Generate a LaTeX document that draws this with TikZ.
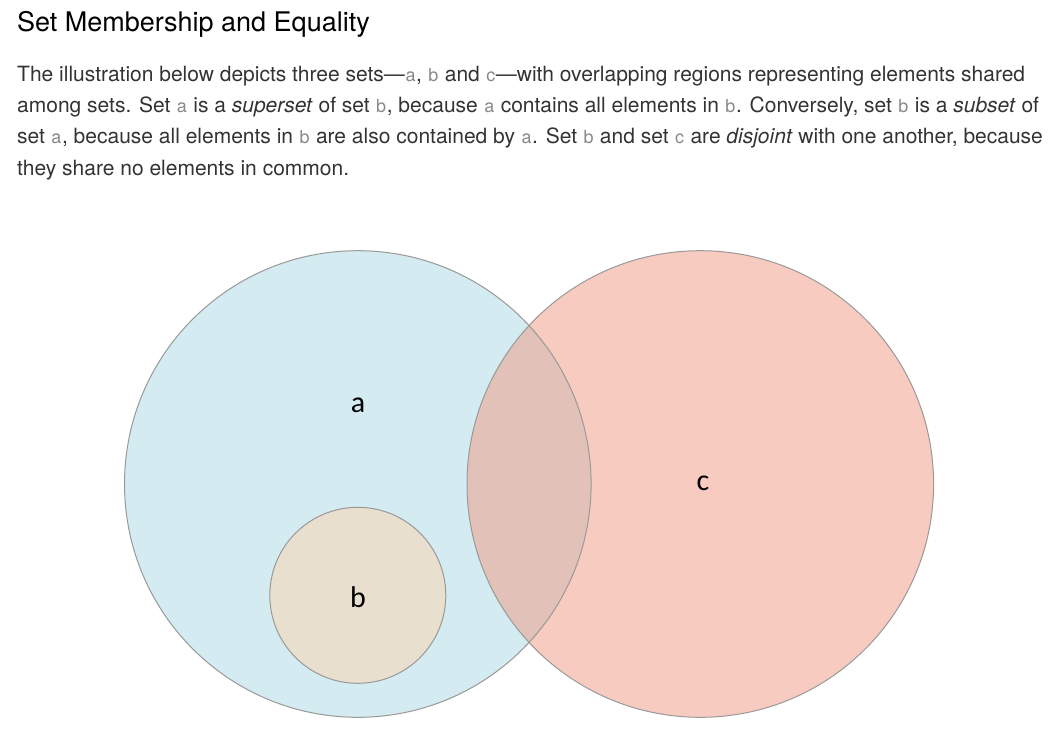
\documentclass[tikz,border=0pt]{standalone}
\usepackage{fontspec}
\setmainfont{TeX Gyre Heros}
\newfontfamily\labelfont{Carlito}
\definecolor{bodytext}{HTML}{333333}
\definecolor{codegray}{HTML}{888888}
\definecolor{afill}{HTML}{D4EBF1}
\definecolor{bfill}{HTML}{E8DFCE}
\definecolor{cfill}{HTML}{F7CBC0}
\definecolor{acfill}{HTML}{E2C2B8}
\definecolor{edge}{HTML}{999999}
\newcommand{\cw}[1]{\hspace{0.6pt}{\color{codegray}\fontsize{18}{18}\selectfont #1}\hspace{0.6pt}}
\tikzset{
  textline/.style={anchor=base west, inner sep=0pt, text=bodytext, font=\fontsize{21}{21}\selectfont},
  titleline/.style={anchor=base west, inner sep=0pt, text=black, font=\fontsize{27}{27}\selectfont},
  setlabel/.style={inner sep=0pt, text=black, font=\labelfont\fontsize{30}{30}\selectfont},
  setedge/.style={draw=edge, line width=1pt}
}
\begin{document}
\begin{tikzpicture}[x=1pt,y=-1pt]
\useasboundingbox (0,0) rectangle (1061,742);
\node[titleline] (title) at (17,31) {Set Membership and Equality};
\node[textline] (l1) at (17,81) {The illustration below depicts three sets---\cw{a}, \cw{b} and \cw{c}---with overlapping regions representing elements shared};
\node[textline] (l2) at (17,112.3) {among sets. Set \cw{a} is a \textit{superset} of set \cw{b}, because \cw{a} contains all elements in \cw{b}. Conversely, set \cw{b} is a \textit{subset} of};
\node[textline] (l3) at (17,143.6) {set \cw{a}, because all elements in \cw{b} are also contained by \cw{a}. Set \cw{b} and set \cw{c} are \textit{disjoint} with one another, because};
\node[textline] (l4) at (17,175) {they share no elements in common.};
% fills
\fill[afill] (357.8,484) circle (233.3);
\fill[cfill] (700.3,484) circle (233.3);
\begin{scope}
  \clip (357.8,484) circle (233.3);
  \fill[acfill] (700.3,484) circle (233.3);
\end{scope}
\fill[bfill] (357.8,595.3) circle (88);
% edges
\draw[setedge] (357.8,484) circle (233.3);
\draw[setedge] (700.3,484) circle (233.3);
\draw[setedge] (357.8,595.3) circle (88);
\node[setlabel] (a) at (358,405) {a};
\node[setlabel] (b) at (358,597) {b};
\node[setlabel] (c) at (703,483) {c};
\end{tikzpicture}
\end{document}
